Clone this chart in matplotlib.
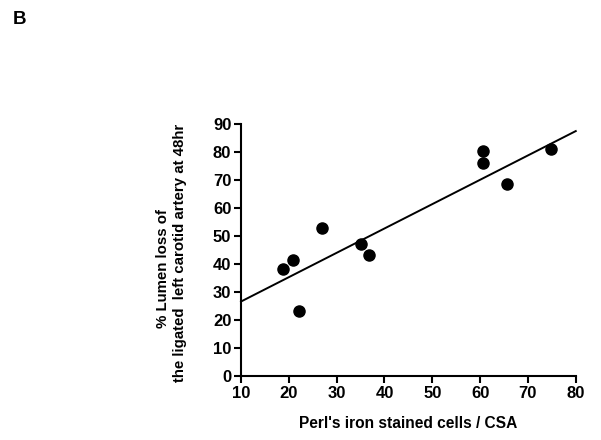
import matplotlib
matplotlib.use('Agg')
import numpy as np
import matplotlib.pyplot as plt

plt.rcParams['font.family'] = ['Liberation Sans', 'DejaVu Sans']

# Perl's iron stained cells / CSA vs % lumen loss
iron_cells = [18.8, 20.9, 22.1, 27.0, 35.0, 36.8, 60.7, 60.7, 65.7, 74.8]
lumen_loss = [38.3, 41.3, 23.3, 52.7, 47.3, 43.1, 80.3, 76.1, 68.7, 81.2]

# regression line end points
fit_x = [10, 80]
fit_y = [26.6, 87.5]

xticks = [10, 20, 30, 40, 50, 60, 70, 80]
yticks = [0, 10, 20, 30, 40, 50, 60, 70, 80, 90]

fig = plt.figure(figsize=(6.01, 4.40), dpi=100)
ax = fig.add_axes([0.401, 0.1455, 0.557, 0.5725])

ax.plot(fit_x, fit_y, color='black', linewidth=1.4, clip_on=False)
ax.scatter(iron_cells, lumen_loss, s=64, color='black', zorder=3, clip_on=False)

ax.set_xlim(10, 80)
ax.set_ylim(0, 90)
ax.set_xticks(xticks)
ax.set_yticks(yticks)

for side in ['top', 'right']:
    ax.spines[side].set_visible(False)
for side in ['left', 'bottom']:
    ax.spines[side].set_linewidth(1.5)

ax.tick_params(direction='out', length=5, width=1.5, labelsize=12, pad=2)
for lab in ax.get_xticklabels() + ax.get_yticklabels():
    lab.set_fontweight('bold')

ax.set_xlabel("Perl's iron stained cells / CSA", fontsize=11.2, fontweight='bold', labelpad=11)

# two-line y label, lines placed separately like the original
fig.text(0.272, 0.39, '% Lumen loss of', rotation=90, fontsize=10.8,
         fontweight='bold', ha='center', va='center')
fig.text(0.300, 0.425, 'the ligated  left carotid artery at 48hr', rotation=90,
         fontsize=10.8, fontweight='bold', ha='center', va='center')

fig.text(0.022, 0.975, 'B', fontsize=13.5, fontweight='bold', va='top', ha='left')

plt.savefig('out.png', dpi=100)
